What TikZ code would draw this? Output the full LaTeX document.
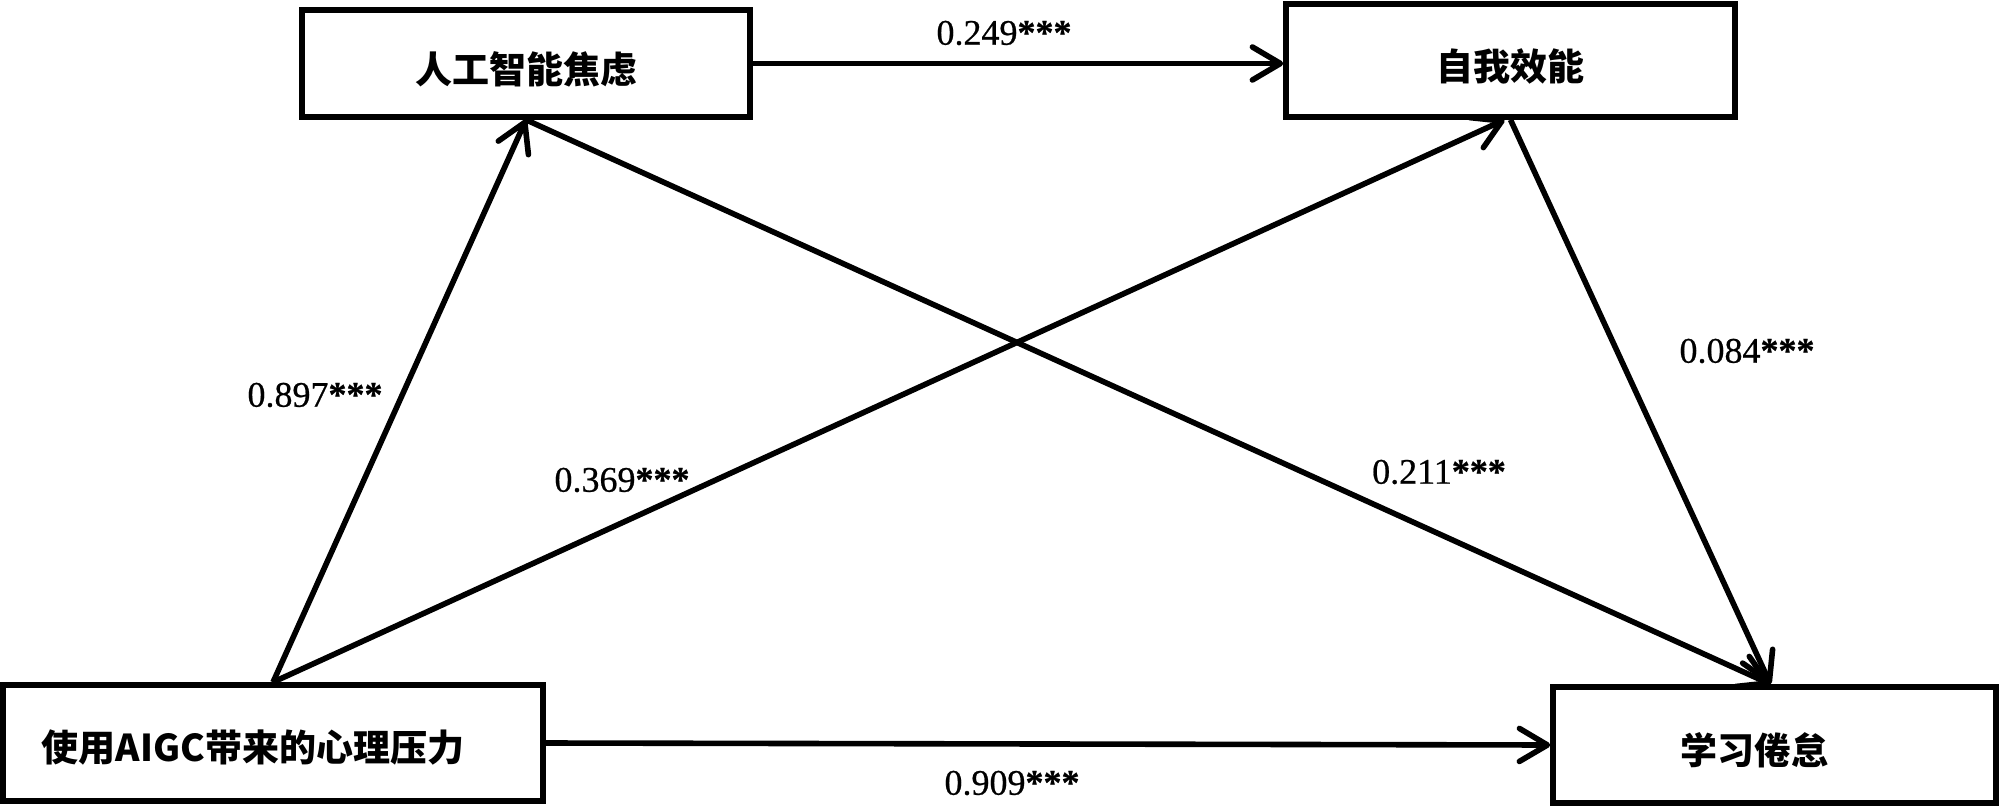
\documentclass[tikz,border=0pt]{standalone}
\usepackage{fontspec}
\setmainfont{Liberation Serif}
\newfontfamily\labfont{Liberation Serif}[FakeBold=0.6]
\newfontfamily\cjk{Noto Sans CJK SC}
\usetikzlibrary{arrows.meta}
\newcommand{\stars}{\textbf{***}}
\begin{document}
\begin{tikzpicture}[x=0.5pt,y=-0.5pt,
  box/.style={draw, line width=2.8pt, inner sep=0pt},
  txt/.style={font=\cjk\bfseries\fontsize{18.5}{20}\selectfont, inner sep=0pt},
  lab/.style={font=\labfont\fontsize{18}{20}\selectfont, inner sep=0pt},
  arr/.style={line width=2.8pt, -{Straight Barb[length=14pt,width=16.5pt,round]}}]
\useasboundingbox (0,0) rectangle (2000,807);
% boxes
\node[box, minimum width=224pt, minimum height=53.5pt] (A) at (526,63.5) {};
\node[box, minimum width=224.5pt, minimum height=56.5pt] (B) at (1510.5,60.5) {};
\node[box, minimum width=270pt, minimum height=58pt] (C) at (273,743) {};
\node[box, minimum width=221.5pt, minimum height=58pt] (D) at (1774.5,745) {};
% box texts
\node[txt] (tA) at ([yshift=-3pt]A.center) {人工智能焦虑};
\node[txt] (tB) at ([yshift=-3pt]B.center) {自我效能};
\node[txt] (tC) at ([xshift=-10pt,yshift=-2pt]C.center) {使用AIGC带来的心理压力};
\node[txt] (tD) at ([xshift=-10pt,yshift=-2.5pt]D.center) {学习倦怠};
% connectors
\draw[arr] (A.east) -- (A.east -| B.west);
\draw[arr] (C.north) -- (A.south);
\draw[arr] (C.north) -- ([xshift=-3pt]B.south);
\draw[arr] (A.south) -- ([xshift=-2pt]D.north);
\draw[arr] (B.south) -- ([xshift=-2pt]D.north);
\draw[arr] (C.east) -- (D.west);
% labels
\node[lab] (l1) at (1004,33) {0.249\stars};
\node[lab] (l2) at (315,395) {0.897\stars};
\node[lab] (l3) at (622,480) {0.369\stars};
\node[lab] (l4) at (1439,472) {0.211\stars};
\node[lab] (l5) at (1747,351) {0.084\stars};
\node[lab] (l6) at (1012,783) {0.909\stars};
\end{tikzpicture}
\end{document}
